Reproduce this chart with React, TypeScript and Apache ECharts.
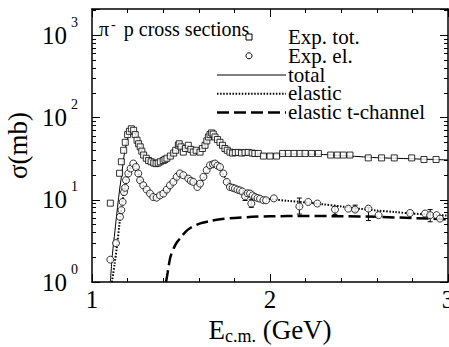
import React, { useEffect, useRef } from "react";
import * as echarts from "echarts";

// Experimental total cross section (squares): [E_cm (GeV), sigma (mb)]
const expTot: number[][] = [
  [1.103, 9.1], [1.155, 21], [1.165, 29], [1.178, 40], [1.187, 50], [1.2, 62], [1.21, 68],
  [1.221, 73], [1.234, 70], [1.243, 62], [1.253, 53], [1.262, 48], [1.271, 44], [1.28, 39],
  [1.29, 35], [1.305, 32], [1.318, 30], [1.332, 29], [1.347, 28], [1.36, 27.5], [1.372, 28],
  [1.384, 29], [1.4, 30], [1.41, 31], [1.421, 32], [1.44, 34], [1.459, 37], [1.47, 40],
  [1.485, 46], [1.49, 48], [1.5, 44], [1.513, 38], [1.525, 42], [1.541, 46], [1.555, 41],
  [1.569, 38], [1.585, 40], [1.607, 38], [1.62, 42], [1.635, 46], [1.645, 52], [1.654, 58],
  [1.663, 62], [1.672, 65], [1.681, 63], [1.691, 58], [1.705, 54], [1.719, 50], [1.733, 46],
  [1.747, 42], [1.76, 40], [1.775, 38], [1.79, 37], [1.805, 37.5], [1.822, 37.7], [1.84, 37],
  [1.86, 37.5], [1.878, 37.7], [1.9, 37], [1.915, 36.5], [1.934, 36.6], [1.963, 34], [2.0, 34],
  [2.037, 34], [2.071, 36.6], [2.103, 36.6], [2.135, 36.6], [2.169, 36.6], [2.197, 36.6],
  [2.234, 36.6], [2.272, 36.6], [2.341, 35], [2.378, 35], [2.412, 35], [2.449, 35],
  [2.552, 32.3], [2.627, 32.3], [2.698, 32.3], [2.796, 32.3], [2.865, 30.9], [2.933, 30.9],
];

// Experimental elastic cross section (circles)
const expEl: number[][] = [
  [1.103, 1.87], [1.135, 2.97], [1.157, 6.2], [1.165, 7.5], [1.172, 9.4], [1.18, 12.4],
  [1.186, 14], [1.191, 17.3], [1.204, 20.9], [1.217, 24], [1.232, 27.6], [1.247, 25],
  [1.26, 20.9], [1.27, 17.3], [1.288, 15], [1.307, 13.3], [1.326, 11.9], [1.344, 10.8],
  [1.363, 10.6], [1.382, 11.3], [1.401, 11.9], [1.42, 13.3], [1.438, 15], [1.457, 16.5],
  [1.476, 19], [1.494, 20.9], [1.513, 19.9], [1.541, 18.1], [1.555, 17], [1.569, 16.5],
  [1.592, 14.3], [1.607, 15.7], [1.626, 19], [1.644, 22.9], [1.663, 26.3], [1.68, 27],
  [1.691, 27.6], [1.705, 26], [1.719, 25], [1.738, 20.9], [1.757, 16.5], [1.775, 14.3],
  [1.79, 14], [1.803, 13.7], [1.817, 13.3], [1.831, 13], [1.845, 12.6], [1.86, 11.0],
  [1.874, 12], [1.888, 11.9], [1.895, 9.0], [1.902, 11.3], [1.916, 10.8], [1.93, 10.5],
  [1.944, 10.3], [1.963, 9.9], [1.978, 9.86], [2.022, 10.4], [2.165, 8.3], [2.215, 9.4],
  [2.266, 9], [2.365, 7.6], [2.44, 7.8], [2.478, 7.6], [2.553, 7.8], [2.61, 6.5],
  [2.787, 6.9], [2.871, 6.8], [2.9, 6.5], [2.936, 6.5], [2.955, 5.9],
];

// Error bars on elastic data: [E, low, high]
const expElErr: number[][] = [
  [1.86, 9.8, 12.9], [1.895, 8.1, 10.0], [2.165, 6.7, 10.5], [2.365, 6.6, 8.3],
  [2.478, 7.2, 8.6], [2.553, 5.6, 8.1], [2.9, 5.4, 7.6],
];

// Model curves
const totalCurve: number[][] = [
  [1.103, 1], [1.115, 2.2], [1.129, 4.2], [1.143, 8], [1.157, 14.3], [1.168, 21], [1.176, 30],
  [1.19, 45], [1.205, 60], [1.218, 69], [1.228, 71], [1.24, 66], [1.255, 54], [1.27, 44],
  [1.285, 37], [1.3, 32.5], [1.32, 29.5], [1.345, 28], [1.37, 28], [1.4, 29.5], [1.43, 32.5],
  [1.46, 37], [1.49, 42], [1.52, 43], [1.56, 41.5], [1.6, 41], [1.63, 45], [1.655, 55],
  [1.675, 62], [1.69, 61], [1.71, 55], [1.735, 47], [1.76, 41], [1.8, 38], [1.85, 37],
  [1.9, 36.5], [2.0, 36], [2.1, 36], [2.2, 36], [2.3, 35.5], [2.4, 34.5], [2.5, 33.5],
  [2.6, 32.5], [2.7, 32], [2.8, 31.5], [2.9, 31], [3.0, 30.5],
];

const elasticCurve: number[][] = [
  [1.112, 1], [1.126, 1.6], [1.14, 2.7], [1.159, 6.2], [1.178, 11.9], [1.19, 16], [1.205, 21],
  [1.222, 25.5], [1.235, 26.5], [1.25, 24], [1.265, 19.5], [1.28, 16], [1.3, 13.5],
  [1.33, 11.5], [1.36, 10.7], [1.39, 11], [1.42, 12.5], [1.45, 15], [1.48, 18.5],
  [1.505, 19.8], [1.53, 19], [1.56, 17], [1.59, 15.5], [1.615, 16.5], [1.64, 21],
  [1.665, 25.5], [1.69, 26.8], [1.715, 24.5], [1.74, 20], [1.77, 15.5], [1.8, 13.5],
  [1.85, 12.2], [1.9, 11.2], [1.95, 10.5], [2.0, 10.2], [2.1, 9.7], [2.2, 9.3], [2.3, 8.8],
  [2.4, 8.3], [2.5, 7.8], [2.6, 7.4], [2.7, 7.1], [2.8, 6.8], [2.9, 6.6], [3.0, 6.4],
];

const tChannelCurve: number[][] = [
  [1.416, 1], [1.425, 1.3], [1.44, 2.0], [1.46, 2.6], [1.478, 3.06], [1.5, 3.5], [1.524, 4.05],
  [1.55, 4.5], [1.6, 5.1], [1.66, 5.5], [1.72, 5.8], [1.8, 6.0], [1.9, 6.2], [2.0, 6.3],
  [2.2, 6.35], [2.4, 6.3], [2.6, 6.2], [2.8, 6.0], [3.0, 5.8],
];

const legendLabels = ["Exp. tot.", "Exp. el.", "total", "elastic", "elastic t-channel"];
const xTitle = ["E", "c.m.", " (GeV)"];
const yTitle = "σ(mb)";
const chartTitle = ["π", "-", " p cross sections"];

const SERIF = "Liberation Serif";

export default function App() {
  const ref = useRef<HTMLDivElement>(null);
  useEffect(() => {
    if (!ref.current) return;
    const chart = echarts.init(ref.current, null, { renderer: "svg" });

    const yLabel = (v: number) => {
      const p = Math.log10(v);
      const r = Math.round(p);
      if (Math.abs(p - r) > 1e-6) return "";
      return `{b|10}{s|${r}}`;
    };

    const axisCommonY = {
      type: "log" as const,
      logBase: 10,
      min: 1,
      max: 2090,
      axisLine: { show: true, lineStyle: { color: "#000", width: 1.5 } },
      axisTick: { show: true, inside: true, length: 8, lineStyle: { color: "#000", width: 1 } },
      minorTick: { show: true, splitNumber: 9, length: 4, lineStyle: { color: "#000", width: 1 } },
      splitLine: { show: false },
      minorSplitLine: { show: false },
    };
    const axisCommonX = {
      type: "value" as const,
      min: 1,
      max: 3,
      interval: 1,
      axisLine: { show: true, lineStyle: { color: "#000", width: 1.5 } },
      axisTick: { show: true, inside: true, length: 8, lineStyle: { color: "#000", width: 1 } },
      minorTick: { show: true, splitNumber: 5, length: 4, lineStyle: { color: "#000", width: 1 } },
      splitLine: { show: false },
    };

    const lineY = 75;
    const legendTop = 37;
    const gap = 18.8;

    chart.setOption({
      animation: false,
      textStyle: { fontFamily: SERIF },
      title: {
        text: `{a|${chartTitle[0]}}{s|${chartTitle[1]}}{a|${chartTitle[2]}}`,
        left: 94,
        top: 12,
        textStyle: {
          fontWeight: "normal",
          fontFamily: SERIF,
          rich: {
            a: { fontFamily: SERIF, fontSize: 20, fontWeight: "normal", color: "#000", lineHeight: 24 },
            s: { fontFamily: SERIF, fontSize: 14, fontWeight: "normal", color: "#000", verticalAlign: "top", lineHeight: 14, padding: [0, 3, 0, 2] },
          },
        },
      },
      grid: { left: 92, right: 1, top: 9, bottom: 65, containLabel: false, outerBoundsMode: "none" },
      xAxis: [
        {
          ...axisCommonX,
          position: "bottom",
          name: `{e|${xTitle[0]}}{sub|${xTitle[1]}}{e|${xTitle[2]}}`,
          nameLocation: "middle",
          nameGap: 30,
          nameTextStyle: {
            fontFamily: SERIF,
            rich: {
              e: { fontFamily: SERIF, fontSize: 27, color: "#000", lineHeight: 30 },
              sub: { fontFamily: SERIF, fontSize: 18, color: "#000", lineHeight: 18, verticalAlign: "bottom" },
            },
          },
          axisLabel: { show: true, margin: 5, fontFamily: SERIF, fontSize: 25, color: "#000" },
        },
        {
          ...axisCommonX,
          position: "top",
          axisLabel: { show: false },
        },
      ],
      yAxis: [
        {
          ...axisCommonY,
          position: "left",
          name: yTitle,
          nameLocation: "middle",
          nameGap: 52,
          nameTextStyle: { fontFamily: SERIF, fontSize: 27, color: "#000" },
          axisLabel: {
            show: true,
            margin: 14,
            fontFamily: SERIF,
            formatter: yLabel,
            rich: {
              b: { fontFamily: SERIF, fontSize: 25, color: "#000", lineHeight: 40 },
              s: { fontFamily: SERIF, fontSize: 14, color: "#000", lineHeight: 14, verticalAlign: "top", padding: [0, 0, 0, 4] },
            },
          },
        },
        {
          ...axisCommonY,
          position: "right",
          axisLabel: { show: false },
        },
      ],
      series: [
        { name: "total", type: "line", data: totalCurve, symbol: "none", smooth: 0.3, lineStyle: { color: "#000", width: 1 }, z: 2 },
        { name: "elastic", type: "line", data: elasticCurve, symbol: "none", smooth: 0.3, lineStyle: { color: "#000", width: 2, type: [1.5, 1.6] }, z: 2 },
        { name: "elastic t-channel", type: "line", data: tChannelCurve, symbol: "none", smooth: 0.3, lineStyle: { color: "#000", width: 2.5, type: [12, 5] }, z: 2 },
        {
          name: "errors",
          type: "custom",
          data: expElErr,
          z: 3,
          renderItem: (params: any, api: any) => {
            const x = api.value(0);
            const lo = api.coord([x, api.value(1)]);
            const hi = api.coord([x, api.value(2)]);
            const w = 2.5;
            return {
              type: "group",
              children: [
                { type: "line", shape: { x1: lo[0], y1: lo[1], x2: hi[0], y2: hi[1] }, style: { stroke: "#000", lineWidth: 1 } },
                { type: "line", shape: { x1: lo[0] - w, y1: lo[1], x2: lo[0] + w, y2: lo[1] }, style: { stroke: "#000", lineWidth: 1 } },
                { type: "line", shape: { x1: hi[0] - w, y1: hi[1], x2: hi[0] + w, y2: hi[1] }, style: { stroke: "#000", lineWidth: 1 } },
              ],
            };
          },
        },
        { name: "Exp. tot.", type: "scatter", data: expTot, symbol: "rect", symbolSize: 6, itemStyle: { color: "#fff", borderColor: "#000", borderWidth: 1 }, z: 4 },
        { name: "Exp. el.", type: "scatter", data: expEl, symbol: "circle", symbolSize: 7, itemStyle: { color: "#fff", borderColor: "#000", borderWidth: 1 }, z: 4 },
      ],
      graphic: [
        { type: "rect", shape: { x: 246, y: legendTop - 3, width: 6, height: 6 }, style: { fill: "#fff", stroke: "#000", lineWidth: 1 }, z: 10 },
        { type: "circle", shape: { cx: 249, cy: legendTop + gap, r: 3 }, style: { fill: "#fff", stroke: "#000", lineWidth: 1 }, z: 10 },
        { type: "line", shape: { x1: 217, y1: lineY, x2: 286, y2: lineY }, style: { stroke: "#000", lineWidth: 1 }, z: 10 },
        { type: "line", shape: { x1: 217, y1: lineY + gap, x2: 286, y2: lineY + gap }, style: { stroke: "#000", lineWidth: 2, lineDash: [1.5, 1.6] }, z: 10 },
        { type: "line", shape: { x1: 217, y1: lineY + 2 * gap, x2: 286, y2: lineY + 2 * gap }, style: { stroke: "#000", lineWidth: 2.5, lineDash: [12, 5] }, z: 10 },
        ...legendLabels.map((t, i) => ({
          type: "text",
          x: 288,
          y: legendTop + i * gap,
          z: 10,
          style: { text: t, fill: "#000", fontFamily: SERIF, fontSize: 21, lineHeight: 18, textVerticalAlign: "middle", textAlign: "left" },
        })),
      ],
    });
    return () => chart.dispose();
  }, []);

  return (
    <div
      ref={ref}
      style={{ position: "absolute", left: 0, top: 0, width: 449, height: 347, background: "#fff" }}
    />
  );
}
